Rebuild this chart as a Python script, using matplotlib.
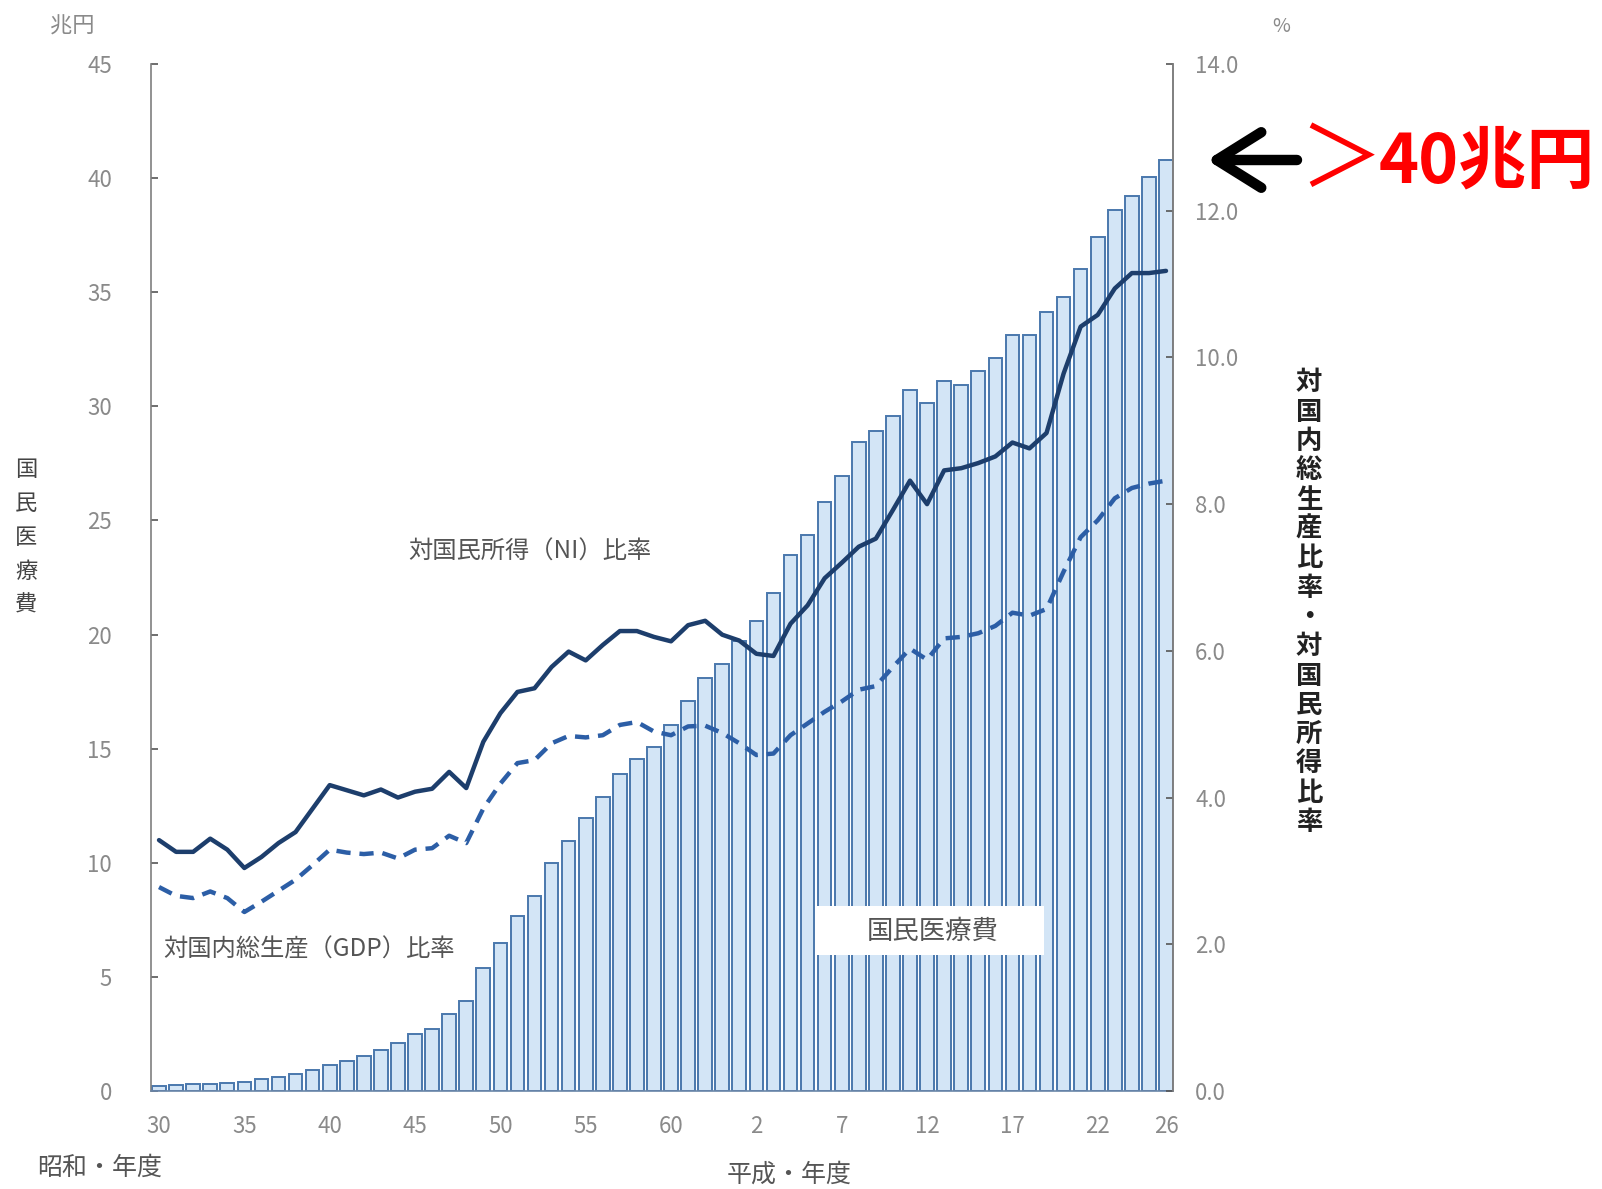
import numpy as np
import matplotlib
matplotlib.use("Agg")
import matplotlib.pyplot as plt
from matplotlib.patches import FancyArrowPatch, Rectangle

plt.rcParams['font.family'] = ['Noto Sans CJK JP', 'DejaVu Sans']

# Fiscal years: Showa 30-63, Heisei 1-26
fiscal_years = [f"S{y}" for y in range(30, 64)] + [f"H{y}" for y in range(1, 27)]

# National medical expenditure (trillion yen)
medical_cost = [0.24, 0.26, 0.29, 0.32, 0.35, 0.41, 0.51, 0.61, 0.74, 0.94,
                1.12, 1.31, 1.53, 1.80, 2.09, 2.50, 2.73, 3.39, 3.96, 5.38,
                6.48, 7.68, 8.56, 10.00, 10.95, 11.98, 12.87, 13.87, 14.54, 15.09,
                16.02, 17.07, 18.08, 18.71, 19.73, 20.61, 21.83, 23.48, 24.36, 25.79,
                26.96, 28.45, 28.91, 29.58, 30.70, 30.14, 31.10, 30.95, 31.54, 32.11,
                33.13, 33.12, 34.14, 34.81, 36.01, 37.42, 38.59, 39.21, 40.06, 40.80]

# Ratio to national income (%)
ratio_ni = [3.42, 3.26, 3.26, 3.44, 3.29, 3.04, 3.19, 3.38, 3.53, 3.85,
            4.17, 4.10, 4.03, 4.11, 4.00, 4.08, 4.12, 4.35, 4.13, 4.76,
            5.15, 5.44, 5.49, 5.78, 5.99, 5.87, 6.08, 6.27, 6.27, 6.19,
            6.13, 6.35, 6.41, 6.22, 6.14, 5.96, 5.93, 6.37, 6.62, 6.99,
            7.20, 7.42, 7.53, 7.92, 8.32, 8.00, 8.46, 8.49, 8.56, 8.65,
            8.84, 8.76, 8.97, 9.78, 10.42, 10.58, 10.94, 11.15, 11.15, 11.18]

# Ratio to GDP (%)
ratio_gdp = [2.78, 2.66, 2.63, 2.72, 2.63, 2.44, 2.58, 2.73, 2.88, 3.08,
             3.29, 3.25, 3.23, 3.25, 3.17, 3.29, 3.31, 3.48, 3.38, 3.85,
             4.19, 4.47, 4.51, 4.74, 4.84, 4.82, 4.85, 4.99, 5.03, 4.90,
             4.85, 4.97, 4.98, 4.88, 4.74, 4.58, 4.60, 4.85, 5.01, 5.17,
             5.31, 5.47, 5.52, 5.78, 6.03, 5.88, 6.17, 6.19, 6.24, 6.34,
             6.52, 6.48, 6.57, 7.08, 7.55, 7.78, 8.08, 8.22, 8.28, 8.32]

tick_years = ["S30", "S35", "S40", "S45", "S50", "S55", "S60",
              "H2", "H7", "H12", "H17", "H22", "H26"]
left_ticks = [0, 5, 10, 15, 20, 25, 30, 35, 40, 45]
right_ticks = [0.0, 2.0, 4.0, 6.0, 8.0, 10.0, 12.0, 14.0]

W, H = 1602, 1189


def fx(px):
    return px / W


def fy(py):
    return 1 - py / H


fig = plt.figure(figsize=(W / 100, H / 100), dpi=100)
fig.patch.set_facecolor('white')

ax = fig.add_axes([fx(151), fy(1091), fx(1173) - fx(151), fy(64) - fy(1091)])
x = np.arange(len(fiscal_years))

ax.bar(x, medical_cost, width=0.8, color='#d3e5f6', edgecolor='#4a78ad',
       linewidth=1.4, zorder=2)
ax.set_xlim(-0.47, 59.41)
ax.set_ylim(0, 45)

tick_pos = [fiscal_years.index(t) for t in tick_years]
ax.set_xticks(tick_pos)
ax.set_xticklabels([t[1:] for t in tick_years])
ax.set_yticks(left_ticks)
ax.set_yticklabels([str(v) for v in left_ticks])

spine_color = '#7f7f7f'
ax.spines['top'].set_visible(False)
for s in ('left', 'right', 'bottom'):
    ax.spines[s].set_color(spine_color)
    ax.spines[s].set_linewidth(1.2)
ax.spines['bottom'].set_color('#6a86a8')

ax.tick_params(axis='x', length=0, pad=17, labelsize=16, labelcolor='#8a8a8a')
ax.tick_params(axis='y', direction='in', length=5, width=1.2, color='#555555',
               pad=28, labelsize=16, labelcolor='#8a8a8a')

ax2 = ax.twinx()
ax2.set_ylim(0, 14)
ax2.set_yticks(right_ticks)
ax2.set_yticklabels([f"{v:.1f}" for v in right_ticks])
ax2.spines['top'].set_visible(False)
ax2.spines['right'].set_color(spine_color)
ax2.spines['right'].set_linewidth(1.2)
ax2.spines['left'].set_visible(False)
ax2.spines['bottom'].set_visible(False)
ax2.tick_params(axis='y', direction='in', length=5, width=1.2, color='#555555',
                pad=16, labelsize=16, labelcolor='#8a8a8a')

ax2.plot(x, ratio_ni, color='#1d3e6c', linewidth=3.2, solid_joinstyle='round',
         solid_capstyle='round', zorder=3)
ax2.plot(x, ratio_gdp, color='#2c5ea6', linewidth=3.2, linestyle=(0, (3.2, 2.0)),
         zorder=3)

# Series labels
fig.text(fx(530), fy(552), "対国民所得（NI）比率", fontsize=17.5, color='#555555',
         ha='center', va='center')
fig.text(fx(309), fy(950), "対国内総生産（GDP）比率", fontsize=17.5, color='#555555',
         ha='center', va='center')

# Label box for the bar series
fig.patches.append(Rectangle((fx(817), fy(955)), fx(1044) - fx(817), fy(906) - fy(955),
                             transform=fig.transFigure, facecolor='white',
                             edgecolor='none', zorder=5))
fig.text(fx(933), fy(931), "国民医療費", fontsize=19, color='#555555',
         ha='center', va='center', zorder=6)

# Unit labels
fig.text(fx(72), fy(26), "兆円", fontsize=16, color='#8a8a8a', ha='center', va='center')
fig.text(fx(1281), fy(26), "%", fontsize=14, color='#8a8a8a', ha='center', va='center')

# Axis titles, stacked vertically
for k, ch in enumerate("国民医療費"):
    fig.text(fx(26), fy(470 + 33.7 * k), ch, fontsize=16, color='#444444',
             ha='center', va='center')
for k, ch in enumerate("対国内総生産比率・対国民所得比率"):
    fig.text(fx(1309), fy(383 + 29.3 * k), ch, fontsize=19, color='#222222',
             fontweight='bold', ha='center', va='center')

fig.text(fx(100), fy(1168), "昭和・年度", fontsize=18, color='#555555',
         ha='center', va='center')
fig.text(fx(789), fy(1175), "平成・年度", fontsize=18, color='#555555',
         ha='center', va='center')

# Callout for the latest value
arrow = FancyArrowPatch(posA=(fx(1297), fy(160)), posB=(fx(1207), fy(160)),
                        transform=fig.transFigure,
                        arrowstyle='->,head_length=0.8,head_width=0.5',
                        mutation_scale=40, linewidth=7.5, color='black',
                        capstyle='round', joinstyle='round', shrinkA=0, shrinkB=0)
fig.patches.append(arrow)
fig.text(fx(1341), fy(162), "＞", fontsize=60, color='#ff0000',
         ha='center', va='center')
fig.text(fx(1379), fy(163), "40兆円", fontsize=49, color='#ff0000',
         fontweight='bold', ha='left', va='center')

fig.savefig("out.png", dpi=100, facecolor='white')
